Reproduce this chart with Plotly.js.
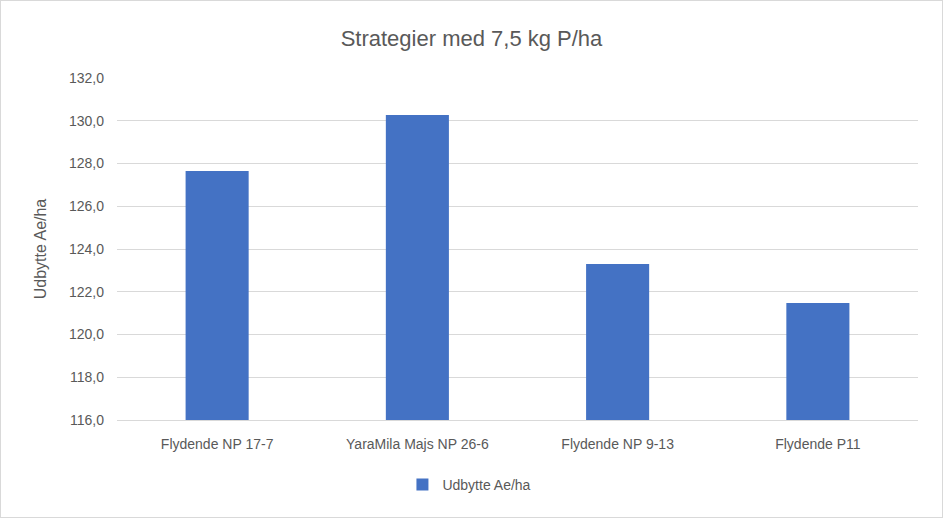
<!DOCTYPE html>
<html><head><meta charset="utf-8">
<script src="https://cdn.plot.ly/plotly-3.0.1.min.js"></script>
<style>html,body{margin:0;padding:0;background:#fff}#c{width:943px;height:518px;box-sizing:border-box;border:1px solid #d9d9d9}</style>
</head><body><div id="c"></div>
<script>
const categories = ["Flydende NP 17-7", "YaraMila Majs NP 26-6", "Flydende NP 9-13", "Flydende P11"];
const values = [127.65, 130.27, 123.3, 121.47];
const seriesName = "Udbytte Ae/ha";
const titleText = "Strategier med 7,5 kg P/ha";
const yTitle = "Udbytte Ae/ha";

const fnt = "Liberation Sans, Arial, sans-serif";
Plotly.newPlot("c", [{
  type: "bar", x: categories, y: values, name: seriesName,
  marker: {color: "#4472c4"}, showlegend: true, hoverinfo: "none"
}], {
  width: 941, height: 516,
  margin: {l: 116, r: 24, t: 77, b: 97},
  paper_bgcolor: "#fff", plot_bgcolor: "#fff",
  separators: ", ",
  bargap: 0.685,
  title: {text: titleText, x: 0.5, xanchor: "center", y: 0.928, yanchor: "middle",
    font: {family: fnt, size: 22, color: "#595959"}},
  xaxis: {type: "category", showgrid: false, showline: true, linecolor: "#d9d9d9", linewidth: 1,
    ticks: "", ticklabelstandoff: 11, tickfont: {family: fnt, size: 14, color: "#595959"}, fixedrange: true},
  yaxis: {range: [116, 132], dtick: 2, tick0: 116, tickformat: ".1f",
    showgrid: true, gridcolor: "#d9d9d9", gridwidth: 1, zeroline: false, showline: false,
    ticks: "", ticklabelstandoff: 12, tickfont: {family: fnt, size: 14, color: "#595959"}, ticklen: 0,
    title: {text: yTitle, standoff: 18, font: {family: fnt, size: 16, color: "#595959"}}},
  legend: {orientation: "h", x: 0.44, xanchor: "center", y: -0.19, yanchor: "middle",
    itemwidth: 30, font: {family: fnt, size: 14, color: "#595959"}},
  bargroupgap: 0
}, {staticPlot: true});
</script></body></html>
